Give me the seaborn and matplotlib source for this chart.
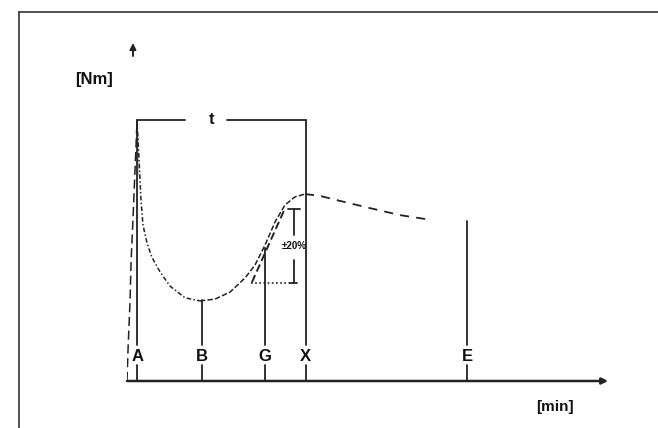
import numpy as np
import pandas as pd
import seaborn as sns
import matplotlib.pyplot as plt
from matplotlib.lines import Line2D

# time in [min], torque in [Nm]
rise_t = [0.0, 0.06, 0.18, 0.24, 0.35, 0.47, 0.59]
rise_T = [0.0, 1.2, 3.1, 4.6, 6.2, 8.1, 10.0]

peak_t = [0.66, 0.66]
peak_T = [7.9, 9.5]

fall_t = [0.59, 0.71, 0.82, 0.94, 1.18, 1.47, 1.94, 2.53, 3.41, 4.29]
fall_T = [10.0, 8.5, 7.0, 6.0, 5.3, 4.75, 4.2, 3.65, 3.2, 3.08]

cure_t = [4.29, 5.18, 6.06, 6.94, 7.53, 8.12, 8.71, 9.29, 9.88, 10.47]
cure_T = [3.08, 3.15, 3.42, 3.96, 4.46, 5.23, 6.12, 6.77, 7.08, 7.19]

rev_t = [10.47, 11.35, 12.82, 14.29, 16.06, 17.94]
rev_T = [7.19, 7.12, 6.88, 6.65, 6.38, 6.19]

tang_t = [7.35, 9.3]
tang_T = [3.8, 6.65]

# marked times and the height where their lines start
mark_names = ["A", "B", "G", "X", "E"]
mark_t = [0.6, 4.4, 8.1, 10.5, 20.0]
mark_top = [10.04, 3.1, 5.1, 10.04, 6.15]

sns.set_style("white")
plt.rcParams['font.family'] = ['Liberation Sans', 'DejaVu Sans']

fig = plt.figure(figsize=(6.58, 4.28), dpi=100)
ax = fig.add_axes([127/658, (428-381)/428, (615-127)/658, (381-40)/428])
ax.set_xlim(0, 488/17)
ax.set_ylim(0, 341/26)
ax.axis("off")

ink = "#222222"

l = sns.lineplot(x=rise_t, y=rise_T, ax=ax, color=ink, lw=1.1, sort=False).lines[-1]
l.set_dashes([6, 3])
sns.lineplot(x=peak_t, y=peak_T, ax=ax, color=ink, lw=2.5, sort=False)
l = sns.lineplot(x=fall_t, y=fall_T, ax=ax, color=ink, lw=1.1, sort=False).lines[-1]
l.set_dashes([3, 1.5, 1, 1.5])
l = sns.lineplot(x=cure_t, y=cure_T, ax=ax, color=ink, lw=1.1, sort=False).lines[-1]
l.set_dashes([3.5, 1.5])
l = sns.lineplot(x=rev_t, y=rev_T, ax=ax, color=ink, lw=1.3, sort=False).lines[-1]
l.set_dashes([5, 4])
l = sns.lineplot(x=tang_t, y=tang_T, ax=ax, color=ink, lw=1.4, sort=False).lines[-1]
l.set_dashes([4, 2])

# marker lines, labels and ticks
lab_y = 0.96
for name, t, top in zip(mark_names, mark_t, mark_top):
    ax.plot([t, t], [1.38, top], color=ink, lw=1.3)
    ax.plot([t, t], [0, 0.6], color=ink, lw=1.3)
    ax.text(t, lab_y, name, ha="center", va="center", fontsize=12,
            fontweight="bold", color="#111111")

# baseline with arrow
ax.annotate("", xy=(28.3, 0), xytext=(0, 0),
            arrowprops=dict(arrowstyle="-|>", color=ink, lw=1.8,
                            mutation_scale=9, shrinkA=0, shrinkB=0))
ax.annotate("", xy=(0.35, 13.0), xytext=(0.35, 12.5),
            arrowprops=dict(arrowstyle="-|>", color=ink, lw=1.4,
                            mutation_scale=9, shrinkA=0, shrinkB=0))

# t bracket
ax.plot([mark_t[0], 3.4], [10.04, 10.04], color=ink, lw=1.3)
ax.plot([5.9, mark_t[3]], [10.04, 10.04], color=ink, lw=1.3)
ax.text(5.0, 10.04, "t", ha="center", va="center", fontsize=12,
        fontweight="bold", color="#111111")

# +-20% bar
ax.plot([9.82, 9.82], [5.6, 6.6], color=ink, lw=1.3)
ax.plot([9.47, 10.18], [6.6, 6.6], color=ink, lw=1.3)
ax.plot([9.82, 9.82], [3.77, 4.65], color=ink, lw=1.3)
ax.plot([9.6, 10.0], [3.77, 3.77], color=ink, lw=1.3)
ax.plot([7.3, 9.6], [3.77, 3.77], color=ink, lw=1.2, ls=(0, (1, 1.5)))
ax.text(9.82, 5.19, "±20%", ha="center", va="center", fontsize=7,
        fontweight="bold", color="#111111")

ax.text(-0.85, 11.6, "[Nm]", ha="right", va="center", fontsize=12,
        fontweight="bold", color="#111111", clip_on=False)
ax.text(25.2, -1.0, "[min]", ha="center", va="center", fontsize=11,
        fontweight="bold", color="#111111", clip_on=False)

# frame around the picture
fig.add_artist(Line2D([19/658, 1], [1-12/428, 1-12/428], color="#333333", lw=1.2))
fig.add_artist(Line2D([19/658, 19/658], [0, 1-12/428], color="#333333", lw=1.2))

fig.savefig("out.png", dpi=100)
